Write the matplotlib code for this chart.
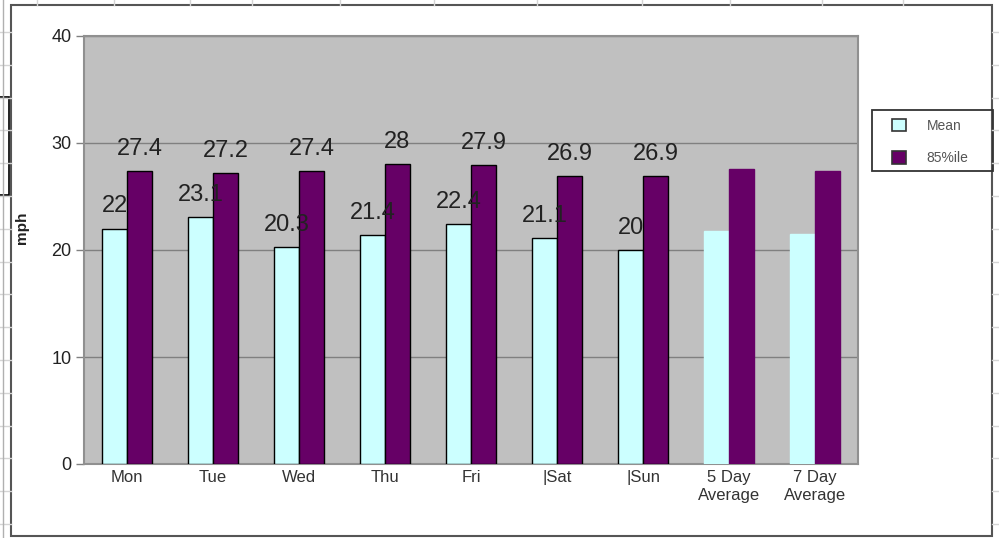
import matplotlib
matplotlib.use("Agg")
import matplotlib.pyplot as plt
import numpy as np
from matplotlib.lines import Line2D
from matplotlib.patches import Rectangle

plt.rcParams['font.family'] = ['Liberation Sans', 'DejaVu Sans']

categories = ["Mon", "Tue", "Wed", "Thu", "Fri", "|Sat", "|Sun", "5 Day\nAverage", "7 Day\nAverage"]
mean_vals = [22, 23.1, 20.3, 21.4, 22.4, 21.1, 20, 21.8, 21.5]
p85_vals = [27.4, 27.2, 27.4, 28, 27.9, 26.9, 26.9, 27.6, 27.4]
mean_labels = ["22", "23.1", "20.3", "21.4", "22.4", "21.1", "20", "", ""]
p85_labels = ["27.4", "27.2", "27.4", "28", "27.9", "26.9", "26.9", "", ""]
yticks = [0, 10, 20, 30, 40]

W, H = 999, 538
fig = plt.figure(figsize=(W / 100, H / 100), dpi=100)
fig.patch.set_facecolor('white')

# spreadsheet background cell lines
cell_col = '#d4d4d4'
for xv in [37, 114, 190, 252, 340, 434, 537, 642, 730, 822, 903]:
    fig.add_artist(Line2D([xv / W, xv / W], [1, 1 - 5 / H], color=cell_col, lw=1))
for yv in np.arange(32, 538, 32.8):
    fig.add_artist(Line2D([0, 11 / W], [1 - yv / H, 1 - yv / H], color=cell_col, lw=1))
    fig.add_artist(Line2D([992 / W, 1], [1 - yv / H, 1 - yv / H], color=cell_col, lw=1))
fig.add_artist(Line2D([3 / W, 3 / W], [0, 1], color='#b0b0b0', lw=1))
# chart frame
fig.add_artist(Rectangle((11 / W, 1 - 536 / H), (992 - 11) / W, (536 - 5) / H,
                         transform=fig.transFigure, fill=True, facecolor='white',
                         edgecolor='#555555', lw=1.5, zorder=0))
# black box at far left
fig.add_artist(Rectangle((-2 / W, 1 - 195 / H), 11 / W, 98 / H, transform=fig.transFigure,
                         fill=False, edgecolor='black', lw=1.2))

ax = fig.add_axes([84 / W, 1 - 464 / H, (858 - 84) / W, (464 - 36) / H])
ax.set_facecolor('#c0c0c0')
x = np.arange(len(categories))
w = 0.29
nb = 7
mean_edges = ['black'] * nb + ['#ccffff'] * (len(categories) - nb)
p85_edges = ['black'] * nb + ['#660066'] * (len(categories) - nb)
b1 = ax.bar(x - w / 2, mean_vals, w, color='#ccffff', edgecolor=mean_edges, linewidth=1, zorder=3, label='Mean')
b2 = ax.bar(x + w / 2, p85_vals, w, color='#660066', edgecolor=p85_edges, linewidth=1, zorder=3, label='85%ile')

for rect, lab in zip(b1, mean_labels):
    if lab:
        ax.annotate(lab, (rect.get_x() + rect.get_width() / 2, rect.get_height()),
                    xytext=(0, 16), textcoords='offset points', ha='center', va='center',
                    fontsize=17, color='#222222', zorder=5)
for rect, lab in zip(b2, p85_labels):
    if lab:
        ax.annotate(lab, (rect.get_x() + rect.get_width() / 2, rect.get_height()),
                    xytext=(0, 16), textcoords='offset points', ha='center', va='center',
                    fontsize=17, color='#222222', zorder=5)

ax.set_xlim(-0.5, len(categories) - 0.5)
ax.set_ylim(0, 40)
ax.set_yticks(yticks)
ax.set_yticklabels([str(t) for t in yticks], fontsize=13, color='#222222')
ax.set_xticks(x)
ax.set_xticklabels(categories, fontsize=12, color='#333333', linespacing=1.3)
ax.tick_params(axis='x', length=0, pad=4)
ax.tick_params(axis='y', length=6, width=1, color='#808080', pad=3)
ax.yaxis.grid(True, color='#808080', lw=1, zorder=1)
ax.set_axisbelow(True)
for s in ax.spines.values():
    s.set_color('#909090')
    s.set_linewidth(1.5)

fig.text(22 / W, 1 - 228 / H, 'mph', rotation=90, ha='center', va='center',
         fontsize=11, fontweight='bold', color='#222222')

# legend box (clipped by chart frame on the right)
fig.add_artist(Rectangle((872 / W, 1 - 171 / H), (993 - 872) / W, (171 - 110) / H,
                         transform=fig.transFigure, fill=False, edgecolor='#333333', lw=1.3))
leg = fig.legend(handles=[b1, b2], labels=['Mean', '85%ile'], loc='upper left',
                 bbox_to_anchor=(892 / W, 1 - 119 / H), frameon=False,
                 fontsize=10, handlelength=1.0, handleheight=1.0,
                 handletextpad=1.5, borderpad=0, labelspacing=1.3, borderaxespad=0)
for t in leg.get_texts():
    t.set_color('#555555')
for h in leg.legend_handles:
    h.set_edgecolor('#333333')
    h.set_linewidth(1.2)

fig.savefig('out.png', dpi=100)
